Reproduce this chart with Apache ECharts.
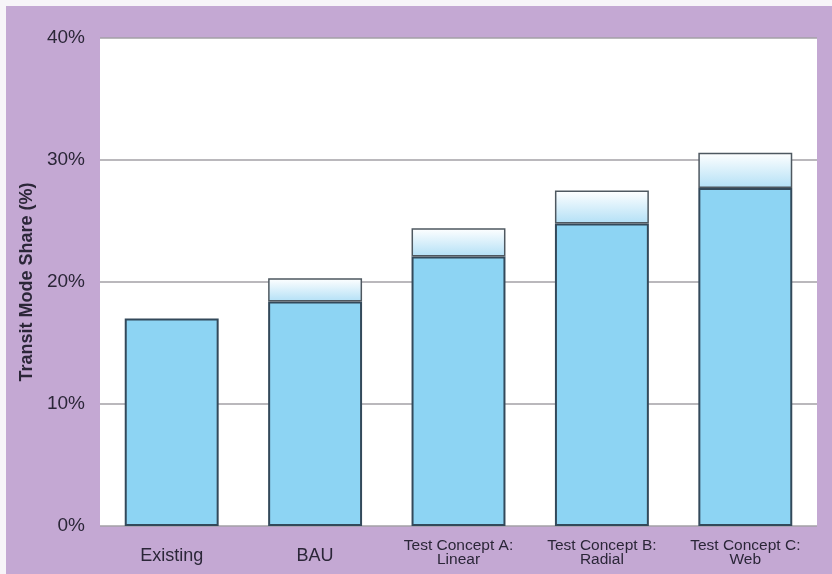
<!DOCTYPE html>
<html>
<head>
<meta charset="utf-8">
<script src="https://cdn.jsdelivr.net/npm/echarts@6/dist/echarts.min.js"></script>
<style>
html,body{margin:0;padding:0;background:#f7f4f8;}
#chart{width:832px;height:574px;}
</style>
</head>
<body>
<div id="chart"></div>
<script>
var categories = ['Existing', 'BAU', 'Test Concept A:\nLinear', 'Test Concept B:\nRadial', 'Test Concept C:\nWeb'];
var baseValues = [17.0, 18.4, 22.1, 24.8, 27.7];
var totalValues = [null, 20.3, 24.4, 27.5, 30.6];
var yTicks = [0, 10, 20, 30, 40];

var topValues = totalValues.map(function (t, i) {
  return t == null ? null : +(t - baseValues[i]).toFixed(2);
});

var FONT = "'Liberation Sans', Arial, sans-serif";
var TEXT = '#2b2638';

var chart = echarts.init(document.getElementById('chart'));
chart.setOption({
  animation: false,
  backgroundColor: 'transparent',
  graphic: [{
    type: 'rect', z: -10, silent: true,
    shape: { x: 6, y: 6, width: 826, height: 568 },
    style: { fill: '#c4a8d3' }
  }],
  grid: {
    left: 100, right: 15, top: 38, bottom: 48,
    show: true, backgroundColor: '#ffffff', borderWidth: 0
  },
  xAxis: {
    type: 'category',
    data: categories,
    axisLine: { show: false },
    axisTick: { show: false },
    axisLabel: {
      margin: 27,
      verticalAlign: 'middle',
      color: TEXT,
      fontFamily: FONT,
      formatter: function (v) {
        if (v.indexOf('\n') >= 0) {
          return v.split('\n').map(function (l) { return '{s|' + l + '}'; }).join('\n');
        }
        return '{b|' + v + '}';
      },
      rich: {
        s: { fontSize: 15.5, lineHeight: 14, fontFamily: FONT, color: TEXT },
        b: { fontSize: 18, lineHeight: 20, padding: [7, 0, 0, 0], fontFamily: FONT, color: TEXT }
      }
    }
  },
  yAxis: {
    type: 'value',
    min: yTicks[0], max: yTicks[yTicks.length - 1], interval: 10,
    name: 'Transit Mode Share (%)',
    nameLocation: 'middle',
    nameGap: 57,
    nameTextStyle: { fontFamily: FONT, fontWeight: 'bold', fontSize: 18, color: TEXT },
    axisLine: { show: false },
    axisTick: { show: false },
    axisLabel: { formatter: '{value}%', margin: 15, fontSize: 19, fontFamily: FONT, color: TEXT },
    splitLine: { show: true, lineStyle: { color: '#a3a0a6', width: 1.5 } }
  },
  series: [{
    type: 'bar',
    stack: 'share',
    barWidth: '65.5%',
    data: baseValues,
    itemStyle: { color: '#8dd4f3', borderColor: '#33495a', borderWidth: 2 }
  }, {
    type: 'bar',
    stack: 'share',
    barWidth: '65.5%',
    data: topValues,
    itemStyle: {
      color: new echarts.graphic.LinearGradient(0, 0, 0, 1, [
        { offset: 0, color: '#ffffff' },
        { offset: 1, color: '#b3e0f6' }
      ]),
      borderColor: '#4e5860', borderWidth: 1.5
    }
  }]
});
</script>
</body>
</html>
